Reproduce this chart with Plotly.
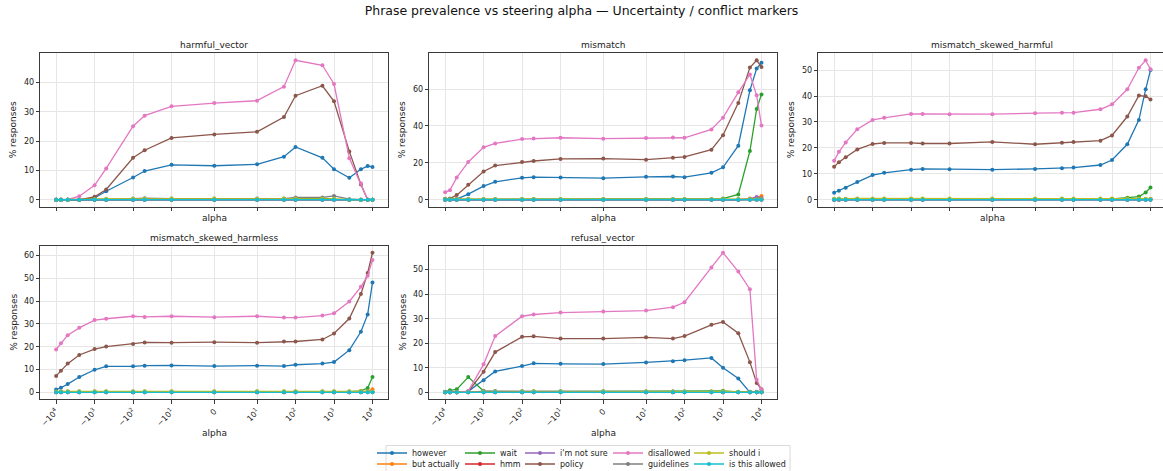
import math
import plotly.graph_objects as go

W, H = 1163, 471

ALPHA = [-10000, -7500, -5000, -2500, -1000, -500, -100, -50, -10, 0,
         10, 50, 100, 500, 1000, 2500, 5000, 7500, 10000]
TICK_VALUES = [-10000, -1000, -100, -10, 0, 10, 100, 1000, 10000]
TICK_LABELS = ["\u221210<sup>4</sup>", "\u221210<sup>3</sup>", "\u221210<sup>2</sup>",
               "\u221210<sup>1</sup>", "0", "10<sup>1</sup>", "10<sup>2</sup>",
               "10<sup>3</sup>", "10<sup>4</sup>"]
PHRASES = ["however", "but actually", "wait", "hmm", "i'm not sure", "policy",
           "disallowed", "guidelines", "should i", "is this allowed"]
COLORS = ["#1f77b4", "#ff7f0e", "#2ca02c", "#d62728", "#9467bd", "#8c564b",
          "#e377c2", "#7f7f7f", "#bcbd22", "#17becf"]
PANELS = ["harmful_vector", "mismatch", "mismatch_skewed_harmful",
          "mismatch_skewed_harmless", "refusal_vector"]
Y_DTICK = [10, 20, 10, 10, 10]

# ---------------- harmful_vector ----------------
hv_however = [0, 0, 0, 0, 0.6, 2.9, 7.6, 9.8, 11.9, 11.6, 12.1, 14.7, 18.0, 14.3, 10.4, 7.5, 10.4, 11.5, 11.2]
hv_but_actually = [0, 0, 0, 0, 0, 0, 0, 0, 0, 0, 0, 0, 0, 0, 0, 0, 0, 0, 0]
hv_wait = [0, 0, 0, 0, 0, 0, 0.1, 0.1, 0.2, 0.1, 0.1, 0.2, 0.3, 0.5, 0.2, 0, 0, 0, 0]
hv_hmm = [0, 0, 0, 0, 0, 0, 0, 0, 0, 0, 0, 0, 0, 0, 0, 0, 0, 0, 0]
hv_not_sure = [0, 0, 0, 0, 0, 0, 0, 0, 0, 0, 0, 0, 0, 0, 0, 0, 0, 0, 0]
hv_policy = [0, 0, 0, 0, 1.0, 3.5, 14.3, 16.9, 21.1, 22.3, 23.2, 28.2, 35.5, 38.9, 33.6, 16.5, 5.2, 0, 0]
hv_disallowed = [0, 0, 0, 1.2, 4.9, 10.7, 25.1, 28.7, 31.9, 33.0, 33.8, 38.6, 47.6, 45.9, 39.5, 14.2, 5.6, 0, 0]
hv_guidelines = [0, 0, 0, 0, 0.2, 0.2, 0.4, 0.5, 0.4, 0.4, 0.4, 0.4, 0.8, 0.8, 1.3, 0.2, 0, 0, 0]
hv_should_i = [0, 0, 0, 0, 0.2, 0.3, 0.3, 0.3, 0.4, 0.4, 0.3, 0.4, 0.4, 0.4, 0.3, 0, 0, 0, 0]
hv_is_allowed = [0, 0, 0, 0, 0, 0, 0, 0, 0, 0, 0, 0, 0, 0, 0, 0, 0, 0, 0]

# ---------------- mismatch ----------------
mm_however = [0.3, 0.3, 0.4, 3.0, 7.4, 9.7, 11.9, 12.2, 12.0, 11.7, 12.4, 12.6, 12.2, 14.6, 17.6, 29.3, 59.3, 71.1, 74.2]
mm_but_actually = [0, 0, 0, 0, 0, 0, 0, 0, 0, 0, 0, 0, 0, 0, 0, 0, 0.6, 1.0, 2.0]
mm_wait = [0.2, 0.2, 0.2, 0.2, 0.2, 0.2, 0.2, 0.2, 0.2, 0.2, 0.2, 0.2, 0.2, 0.3, 0.6, 2.9, 26.4, 49.2, 57.1]
mm_hmm = [0, 0, 0, 0, 0, 0, 0, 0, 0, 0, 0, 0, 0, 0, 0, 0, 0, 0, 0]
mm_not_sure = [0, 0, 0, 0, 0, 0, 0, 0, 0, 0, 0, 0, 0, 0, 0, 0, 0.5, 1.5, 0.8]
mm_policy = [0.5, 0.6, 2.5, 8.1, 15.3, 18.5, 20.5, 21.0, 22.1, 22.3, 21.7, 22.8, 23.2, 27.1, 35.0, 52.5, 71.7, 75.6, 71.9]
mm_disallowed = [4.1, 5.2, 12.0, 20.5, 28.4, 30.5, 32.9, 33.2, 33.6, 33.1, 33.4, 33.8, 33.6, 38.1, 44.5, 58.2, 67.9, 56.6, 40.2]
mm_guidelines = [0.2, 0.2, 0.3, 0.3, 0.3, 0.3, 0.3, 0.3, 0.3, 0.3, 0.3, 0.3, 0.3, 0.3, 0.3, 0.3, 0.3, 0.2, 0.2]
mm_should_i = [0.3, 0.3, 0.4, 0.4, 0.4, 0.4, 0.4, 0.4, 0.4, 0.4, 0.4, 0.4, 0.4, 0.4, 0.4, 0.4, 0.4, 0.3, 0.3]
mm_is_allowed = [0, 0, 0, 0, 0, 0, 0, 0, 0, 0, 0, 0, 0, 0, 0, 0, 0, 0, 0]

# ---------------- mismatch_skewed_harmful ----------------
msh_however = [2.7, 3.5, 4.6, 6.8, 9.5, 10.4, 11.6, 11.9, 11.8, 11.6, 11.9, 12.1, 12.4, 13.4, 15.3, 21.4, 30.8, 42.6, 50.0]
msh_but_actually = [0, 0, 0, 0, 0, 0, 0, 0, 0, 0, 0, 0, 0, 0, 0, 0, 0, 0.2, 0.3]
msh_wait = [0.2, 0.2, 0.2, 0.2, 0.2, 0.2, 0.2, 0.2, 0.2, 0.2, 0.2, 0.2, 0.2, 0.2, 0.3, 0.8, 1.2, 2.8, 4.7]
msh_hmm = [0, 0, 0, 0, 0, 0, 0, 0, 0, 0, 0, 0, 0, 0, 0, 0, 0, 0, 0]
msh_not_sure = [0, 0, 0, 0, 0, 0, 0, 0, 0, 0, 0, 0, 0, 0, 0, 0, 0, 0, 0]
msh_policy = [12.7, 14.5, 16.4, 19.4, 21.5, 21.9, 21.9, 21.7, 21.7, 22.3, 21.4, 22.0, 22.3, 22.8, 24.8, 32.1, 40.2, 39.9, 38.7]
msh_disallowed = [15.0, 18.5, 22.1, 27.2, 30.8, 31.6, 33.1, 33.1, 33.0, 33.0, 33.4, 33.6, 33.6, 34.9, 36.8, 42.6, 50.9, 53.8, 50.3]
msh_guidelines = [0.3, 0.4, 0.3, 0.4, 0.4, 0.4, 0.4, 0.4, 0.4, 0.4, 0.4, 0.4, 0.4, 0.4, 0.4, 0.4, 0.4, 0.3, 0.3]
msh_should_i = [0.4, 0.5, 0.4, 0.5, 0.5, 0.5, 0.5, 0.5, 0.5, 0.5, 0.5, 0.5, 0.5, 0.5, 0.5, 0.5, 0.5, 0.4, 0.4]
msh_is_allowed = [0, 0.1, 0, 0, 0, 0, 0, 0, 0, 0, 0, 0, 0, 0, 0, 0, 0, 0, 0]

# ---------------- mismatch_skewed_harmless ----------------
mshl_however = [1.2, 2.0, 3.6, 6.7, 9.9, 11.4, 11.4, 11.7, 11.8, 11.5, 11.7, 11.5, 12.1, 12.6, 13.3, 18.5, 26.6, 34.2, 48.2]
mshl_but_actually = [0, 0, 0, 0, 0, 0, 0, 0, 0, 0, 0, 0, 0, 0, 0, 0, 0.2, 0.5, 1.3]
mshl_wait = [0.2, 0.2, 0.2, 0.2, 0.2, 0.2, 0.2, 0.2, 0.2, 0.2, 0.2, 0.2, 0.2, 0.2, 0.2, 0.3, 0.6, 1.9, 6.7]
mshl_hmm = [0, 0, 0, 0, 0, 0, 0, 0, 0, 0, 0, 0, 0, 0, 0, 0, 0, 0, 0]
mshl_not_sure = [0, 0, 0, 0, 0, 0, 0, 0, 0, 0, 0, 0, 0, 0, 0, 0, 0, 0.2, 0.3]
mshl_policy = [7.2, 9.5, 12.6, 16.4, 19.0, 20.1, 21.2, 21.9, 21.8, 22.0, 21.8, 22.3, 22.3, 23.2, 25.8, 32.4, 43.2, 52.4, 61.3]
mshl_disallowed = [18.8, 21.5, 25.1, 28.3, 31.7, 32.3, 33.4, 33.1, 33.4, 33.0, 33.4, 32.8, 32.8, 33.7, 34.7, 39.9, 46.3, 51.2, 58.1]
mshl_guidelines = [0.3, 0.3, 0.4, 0.4, 0.4, 0.4, 0.4, 0.4, 0.4, 0.4, 0.4, 0.4, 0.4, 0.4, 0.4, 0.4, 0.4, 0.3, 0.3]
mshl_should_i = [0.4, 0.4, 0.5, 0.5, 0.5, 0.5, 0.5, 0.5, 0.5, 0.5, 0.5, 0.5, 0.5, 0.5, 0.5, 0.5, 0.5, 0.4, 0.4]
mshl_is_allowed = [0, 0, 0, 0, 0, 0, 0, 0, 0, 0, 0, 0, 0, 0, 0, 0, 0, 0, 0]

# ---------------- refusal_vector ----------------
rv_however = [0, 0, 0, 0.4, 4.9, 8.5, 10.7, 11.8, 11.6, 11.5, 12.2, 12.7, 13.1, 14.0, 10.0, 5.6, 0, 0, 0]
rv_but_actually = [0, 0, 0, 0, 0, 0, 0, 0, 0, 0, 0, 0, 0, 0, 0, 0, 0, 0, 0]
rv_wait = [0.2, 0.8, 1.2, 6.2, 0.5, 0.3, 0.3, 0.3, 0.3, 0.3, 0.3, 0.3, 0.3, 0.3, 0.6, 0.2, 0.2, 0.2, 0.2]
rv_hmm = [0, 0, 0, 0, 0, 0, 0, 0, 0, 0, 0, 0, 0, 0, 0, 0, 0, 0, 0]
rv_not_sure = [0, 0, 0, 0, 0, 0, 0, 0, 0, 0, 0, 0, 0, 0, 0, 0, 0, 0, 0]
rv_policy = [0, 0, 0, 0.3, 8.4, 16.4, 22.6, 22.8, 21.9, 21.9, 22.4, 21.9, 22.9, 27.5, 28.7, 24.1, 12.3, 3.8, 1.2]
rv_disallowed = [0, 0, 0, 0.5, 11.4, 22.9, 31.0, 31.7, 32.5, 32.9, 33.3, 34.7, 36.7, 50.9, 56.9, 49.2, 42.0, 5.1, 1.1]
rv_guidelines = [0, 0, 0, 0, 0.5, 0.5, 0.4, 0.4, 0.4, 0.4, 0.3, 0.3, 0.3, 0.3, 0.3, 0.1, 0, 0, 0]
rv_should_i = [0, 0, 0, 0, 0.3, 0.3, 0.3, 0.3, 0.3, 0.3, 0.3, 0.3, 0.3, 0.3, 0.4, 0.2, 0, 0, 0]
rv_is_allowed = [0, 0, 0, 0, 0, 0, 0, 0, 0, 0, 0, 0, 0, 0, 0, 0, 0, 0, 0]

SERIES = [
    [hv_however, hv_but_actually, hv_wait, hv_hmm, hv_not_sure, hv_policy,
     hv_disallowed, hv_guidelines, hv_should_i, hv_is_allowed],
    [mm_however, mm_but_actually, mm_wait, mm_hmm, mm_not_sure, mm_policy,
     mm_disallowed, mm_guidelines, mm_should_i, mm_is_allowed],
    [msh_however, msh_but_actually, msh_wait, msh_hmm, msh_not_sure, msh_policy,
     msh_disallowed, msh_guidelines, msh_should_i, msh_is_allowed],
    [mshl_however, mshl_but_actually, mshl_wait, mshl_hmm, mshl_not_sure, mshl_policy,
     mshl_disallowed, mshl_guidelines, mshl_should_i, mshl_is_allowed],
    [rv_however, rv_but_actually, rv_wait, rv_hmm, rv_not_sure, rv_policy,
     rv_disallowed, rv_guidelines, rv_should_i, rv_is_allowed],
]


def symlog(a, linthresh=10.0, base=10.0, linscale=1.0):
    adj = linscale / (1.0 - 1.0 / base)
    if abs(a) <= linthresh:
        return a * adj
    return math.copysign(linthresh * (adj + math.log(abs(a) / linthresh, base)), a)


X_T = [symlog(a) for a in ALPHA]
TICK_T = [symlog(a) for a in TICK_VALUES]

# panel placement in pixels
COLS = [(40.3, 388.3), (429.3, 777.3), (818.3, 1166.3)]
ROWS = [(53.3, 206.7), (245.7, 399.3)]
POS = [(0, 0), (0, 1), (0, 2), (1, 0), (1, 1)]

FONT = "DejaVu Sans"
TXT = "#222222"
SPINE = "#3a3a3a"
GRID = "#e6e6e6"

fig = go.Figure()
layout = dict(
    width=W, height=H,
    margin=dict(l=0, r=0, t=0, b=0, autoexpand=False),
    paper_bgcolor="white", plot_bgcolor="white",
    font=dict(family=FONT, color=TXT, size=8),
    title=dict(text="Phrase prevalence vs steering alpha \u2014 Uncertainty / conflict markers",
               x=0.5, xanchor="center", y=1 - 11 / H, yanchor="middle",
               font=dict(family=FONT, size=12.5, color="#111111")),
    annotations=[], shapes=[],
)

xlo_d, xhi_d = min(X_T), max(X_T)
xpad = 0.05 * (xhi_d - xlo_d)
XLO, XHI = xlo_d - xpad, xhi_d + xpad

# legend placement: columns x (text start), rows y
LEG_TEXT_X = [412, 500, 560, 648, 729]
LEG_ROW_Y = [453, 464]

for p, (panel, series) in enumerate(zip(PANELS, SERIES)):
    r, c = POS[p]
    x0, x1 = COLS[c]
    y0, y1 = ROWS[r]
    ax = "" if p == 0 else str(p + 1)
    xr = [XLO, XHI]
    if x1 > W:
        xr = [XLO, XLO + (XHI - XLO) * (W - x0) / (x1 - x0)]
        x1d = 1.0
    else:
        x1d = x1 / W
    allv = [v for s in series for v in s]
    ymin, ymax = min(allv), max(allv)
    ypad = 0.05 * (ymax - ymin)

    for k, (name, col, ys) in enumerate(zip(PHRASES, COLORS, series)):
        lk = k // 2 + 5 * (k % 2)
        legname = "legend" if lk == 0 else "legend%d" % (lk + 1)
        fig.add_trace(go.Scatter(
            x=X_T, y=ys, mode="lines+markers", name=name,
            line=dict(color=col, width=1.3),
            marker=dict(color=col, size=4),
            xaxis="x" + ax, yaxis="y" + ax,
            showlegend=(p == 0), legend=legname,
            cliponaxis=False if x1 <= W else True,
        ))

    layout["xaxis" + ax] = dict(
        domain=[x0 / W, x1d], anchor="y" + ax, range=xr,
        tickmode="array", tickvals=TICK_T, ticktext=TICK_LABELS,
        showticklabels=(r == 1), tickangle=-45,
        tickfont=dict(size=8, family=FONT, color=TXT),
        ticks="outside", ticklen=3.5, tickwidth=0.8, tickcolor=SPINE,
        showline=True, linecolor=SPINE, linewidth=1, mirror=True,
        showgrid=True, gridcolor=GRID, gridwidth=0.8, zeroline=False,
        automargin=False,
    )
    layout["yaxis" + ax] = dict(
        domain=[1 - y1 / H, 1 - y0 / H], anchor="x" + ax,
        range=[ymin - ypad, ymax + ypad],
        tick0=0, dtick=Y_DTICK[p],
        tickfont=dict(size=8, family=FONT, color=TXT),
        ticks="outside", ticklen=3.5, tickwidth=0.8, tickcolor=SPINE,
        showline=True, linecolor=SPINE, linewidth=1, mirror=True,
        showgrid=True, gridcolor=GRID, gridwidth=0.8, zeroline=False,
        automargin=False,
    )
    xc = (x0 + x1) / 2
    yc = (y0 + y1) / 2
    layout["annotations"].append(dict(
        text=panel, xref="paper", yref="paper", x=xc / W, y=1 - (y0 - 8) / H,
        xanchor="center", yanchor="middle", showarrow=False,
        font=dict(size=9, family=FONT, color=TXT)))
    alpha_y = 218 if r == 0 else 433
    layout["annotations"].append(dict(
        text="alpha", xref="paper", yref="paper", x=xc / W, y=1 - alpha_y / H,
        xanchor="center", yanchor="middle", showarrow=False,
        font=dict(size=9, family=FONT, color=TXT)))
    layout["annotations"].append(dict(
        text="% responses", xref="paper", yref="paper", x=(x0 - 27) / W, y=1 - yc / H,
        xanchor="center", yanchor="middle", textangle=-90, showarrow=False,
        font=dict(size=9, family=FONT, color=TXT)))

# legends: one per entry so the grid matches the reference
for k in range(10):
    lk = k // 2 + 5 * (k % 2)
    legname = "legend" if lk == 0 else "legend%d" % (lk + 1)
    colx = LEG_TEXT_X[k // 2]
    rowy = LEG_ROW_Y[k % 2]
    layout[legname] = dict(
        x=(colx - 40) / W, xanchor="left", xref="paper",
        y=1 - rowy / H, yanchor="middle", yref="paper",
        orientation="v", bgcolor="rgba(0,0,0,0)", borderwidth=0,
        font=dict(size=8, family=FONT, color=TXT), itemwidth=30,
        itemclick=False, itemdoubleclick=False,
    )

layout["shapes"].append(dict(
    type="rect", xref="paper", yref="paper",
    x0=386 / W, x1=790 / W, y0=1 - 476 / H, y1=1 - 445.5 / H,
    line=dict(color="#d0d0d0", width=0.8), fillcolor="white", layer="below"))

fig.update_layout(**layout)
fig.write_html(
    "out.html",
    config={"displayModeBar": False},
    post_script="document.body.style.margin='0';document.body.style.overflow='hidden';",
)
